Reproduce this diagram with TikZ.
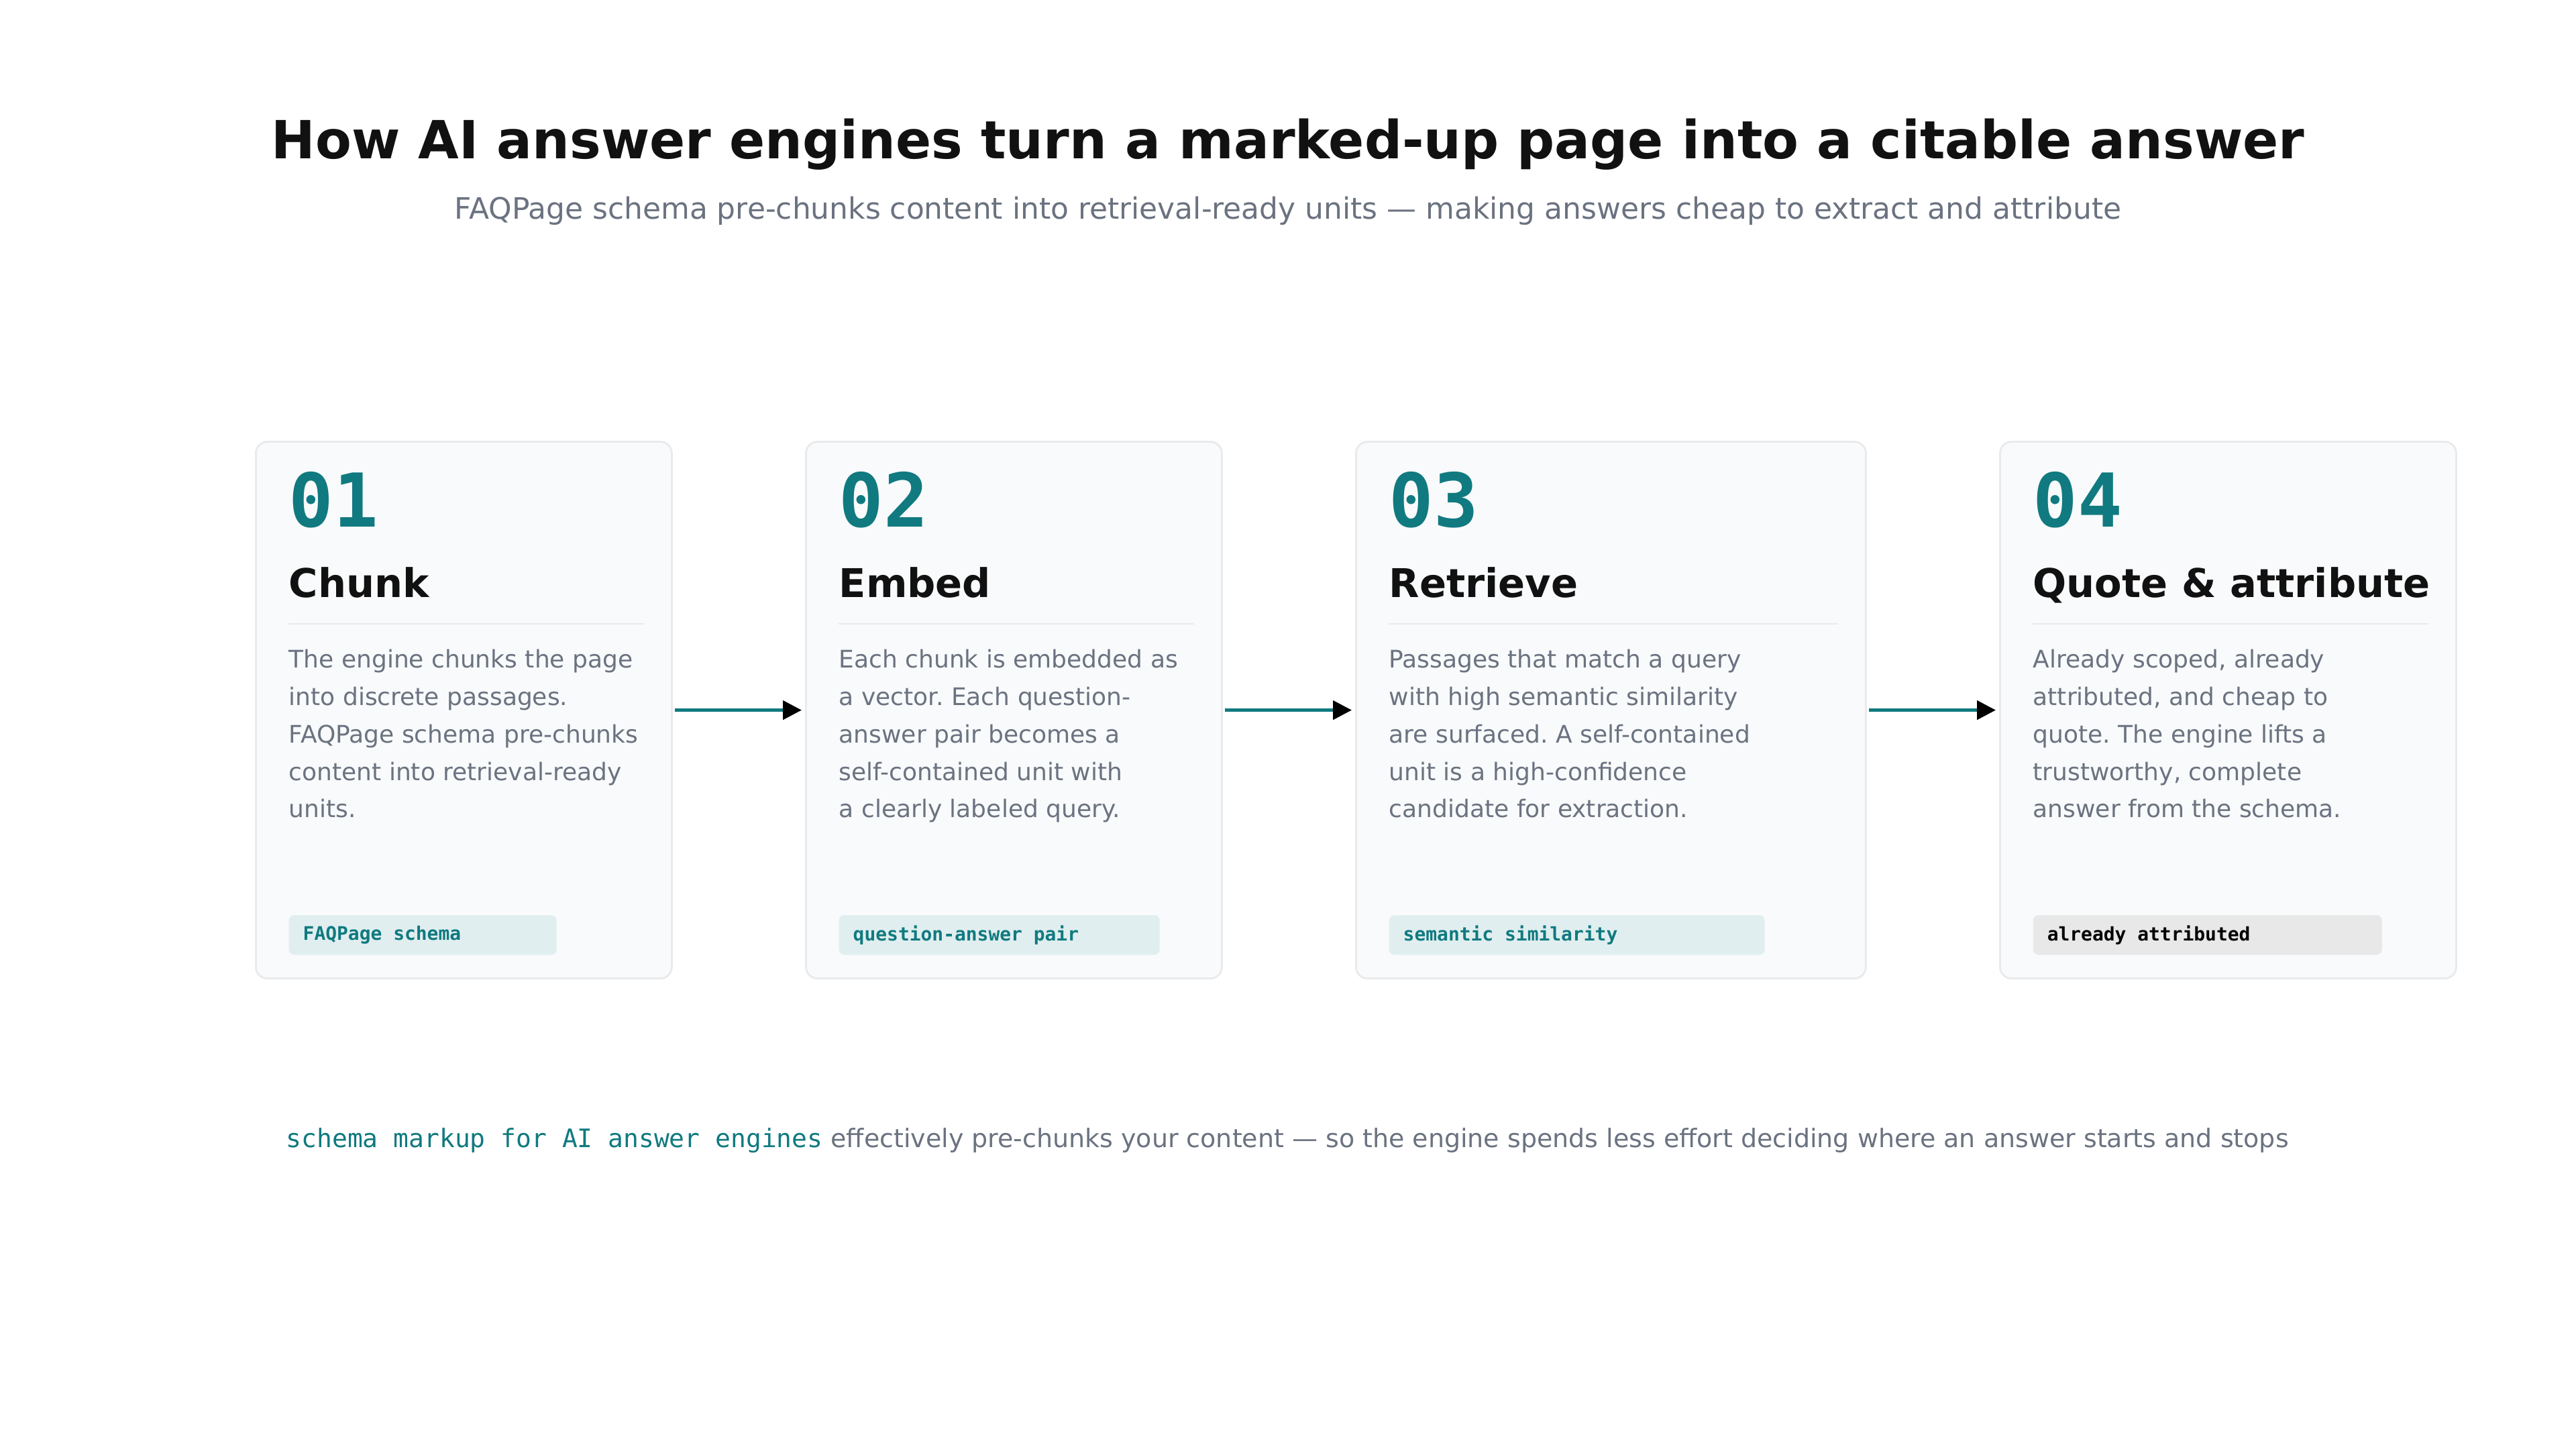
\documentclass[tikz,border=0pt]{standalone}
\usepackage{fontspec}
\setmainfont{DejaVu Sans}
\setmonofont{DejaVu Sans Mono}
\usetikzlibrary{arrows.meta}
\frenchspacing

\definecolor{tealc}{HTML}{107A80}
\definecolor{tagfill}{HTML}{E0EEEF}
\definecolor{tagmute}{HTML}{E8E8E8}
\definecolor{cardfill}{HTML}{F8FAFB}
\definecolor{cardline}{HTML}{E8EAEC}
\definecolor{bodygray}{HTML}{6B7280}
\definecolor{inkc}{HTML}{111111}
\definecolor{rulec}{HTML}{E8EAEC}

\begin{document}
\begin{tikzpicture}
        \tikzstyle{title}=[anchor=base, inner sep=0pt, text=inkc, font=\fontsize{22.3}{27}\selectfont\bfseries]
        \tikzstyle{subtitle}=[anchor=base, inner sep=0pt, text=bodygray, font=\fontsize{12.5}{15}\selectfont]
        \tikzstyle{card}=[rectangle, rounded corners=0.17cm, fill=cardfill, draw=cardline, line width=0.8pt, minimum height=8cm, anchor=south west, inner sep=0pt]
        \tikzstyle{num}=[anchor=base west, inner sep=0pt, text=tealc, font=\fontsize{31.5}{36}\selectfont\ttfamily\bfseries]
        \tikzstyle{head}=[anchor=base west, inner sep=0pt, text=inkc, font=\fontsize{16.8}{20}\selectfont\bfseries]
        \tikzstyle{body}=[anchor=base west, inner sep=0pt, align=left, text=bodygray, font=\fontsize{10.25}{15.9}\selectfont]
        \tikzstyle{tag}=[rectangle, rounded corners=0.08cm, fill=tagfill, anchor=south west, minimum height=0.59cm, inner xsep=0.21cm, inner ysep=0pt, text=tealc, font=\fontsize{7.95}{9}\selectfont\ttfamily\bfseries]
        \tikzstyle{rule}=[rulec, line width=0.6pt]
        \tikzstyle{arrow}=[tealc, line width=1.4pt, -{Triangle[length=0.28cm, width=0.28cm, black]}, shorten <=0.03cm, shorten >=0.05cm]

        \useasboundingbox (0,0) rectangle (38.4,21.6);

        \node[title] (title) at (19.2,19.23) {How AI answer engines turn a marked-up page into a citable answer};
        \node[subtitle] (sub) at (19.2,18.33) {FAQPage schema pre-chunks content into retrieval-ready units — making answers cheap to extract and attribute};

        % cards
        \node[card, minimum width=6.2cm] (chunk)    at (3.8,7)  {};
        \node[card, minimum width=6.2cm] (embed)    at (12.0,7) {};
        \node[card, minimum width=7.6cm] (retrieve) at (20.2,7) {};
        \node[card, minimum width=6.8cm] (quote)    at (29.8,7) {};

        \node[num] (n1) at (4.3,13.74)  {01};
        \node[num] (n2) at (12.5,13.74) {02};
        \node[num] (n3) at (20.7,13.74) {03};
        \node[num] (n4) at (30.3,13.74) {04};

        \node[head] (h1) at (4.3,12.69)  {Chunk};
        \node[head] (h2) at (12.5,12.69) {Embed};
        \node[head] (h3) at (20.7,12.69) {Retrieve};
        \node[head] (h4) at (30.3,12.69) {Quote \& attribute};

        \draw[rule] (4.3,12.30)  -- (9.6,12.30);
        \draw[rule] (12.5,12.30) -- (17.8,12.30);
        \draw[rule] (20.7,12.30) -- (27.4,12.30);
        \draw[rule] (30.3,12.30) -- (36.2,12.30);

        % body text, placed by the baseline of its last line
        \node[body] (b1) at (4.3,9.41)  {The engine chunks the page\\into discrete passages.\\FAQPage schema pre-chunks\\content into retrieval-ready\\units.};
        \node[body] (b2) at (12.5,9.41) {Each chunk is embedded as\\a vector. Each question-\\answer pair becomes a\\self-contained unit with\\a clearly labeled query.};
        \node[body] (b3) at (20.7,9.41) {Passages that match a query\\with high semantic similarity\\are surfaced. A self-contained\\unit is a high-confidence\\candidate for extraction.};
        \node[body] (b4) at (30.3,9.41) {Already scoped, already\\attributed, and cheap to\\quote. The engine lifts a\\trustworthy, complete\\answer from the schema.};

        % tags
        \node[tag] (t1) at (4.3,7.36)  {\makebox[3.57cm][l]{FAQPage schema}};
        \node[tag] (t2) at (12.5,7.36) {\makebox[4.36cm][l]{question-answer pair}};
        \node[tag] (t3) at (20.7,7.36) {\makebox[5.18cm][l]{semantic similarity}};
        \node[tag, fill=tagmute, text=black] (t4) at (30.3,7.36) {\makebox[4.78cm][l]{already attributed}};

        \draw[arrow] (chunk) -- (embed);
        \draw[arrow] (embed) -- (retrieve);
        \draw[arrow] (retrieve) -- (quote);

        \node[anchor=base west, inner sep=0pt, text=bodygray, font=\fontsize{10.8}{13}\selectfont] (foot) at (4.26,4.49)
            {{\ttfamily\color{tealc}schema markup for AI answer engines} effectively pre-chunks your content — so the engine spends less effort deciding where an answer starts and stops};
    \end{tikzpicture}
\end{document}
